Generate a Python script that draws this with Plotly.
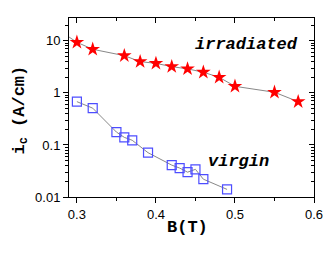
import plotly.graph_objects as go

B_irr = [0.28, 0.30, 0.32, 0.36, 0.38, 0.40, 0.42, 0.44, 0.46, 0.48, 0.50, 0.55, 0.58]
ic_irr = [15.0, 9.4, 6.9, 5.2, 4.0, 3.7, 3.2, 2.9, 2.5, 2.0, 1.34, 1.03, 0.68]

B_vir = [0.30, 0.32, 0.35, 0.36, 0.37, 0.39, 0.42, 0.43, 0.44, 0.45, 0.46, 0.49]
ic_vir = [0.68, 0.51, 0.177, 0.14, 0.123, 0.071, 0.041, 0.036, 0.030, 0.034, 0.022, 0.014]

x_ticks = [0.3, 0.4, 0.5, 0.6]
x_labels = ["0.3", "0.4", "0.5", "0.6"]
y_ticks = [0.01, 0.1, 1, 10]
y_labels = ["0.01", "0.1", "1", "10"]
y_minor = [m * d for d in (0.01, 0.1, 1, 10) for m in range(2, 10) if m * d <= 27]
x_minor = [0.35, 0.45, 0.55]

mono = "Liberation Mono, Courier New, monospace"
font_tick = dict(family="Liberation Sans, Arial", size=13, color="black")

fig = go.Figure()
fig.add_trace(go.Scatter(x=B_irr, y=ic_irr, mode="lines+markers", cliponaxis=True,
                         line=dict(color="#888888", width=1),
                         marker=dict(symbol="star", size=11, color="red", line=dict(width=0))))
fig.add_trace(go.Scatter(x=B_vir, y=ic_vir, mode="lines+markers",
                         line=dict(color="#888888", width=1),
                         marker=dict(symbol="square-open", size=9, color="#4d4dff", line=dict(width=1.2))))
fig.add_trace(go.Scatter(x=[None], y=[None], xaxis="x2", yaxis="y2", showlegend=False))

fig.update_layout(
    width=327, height=273, showlegend=False,
    margin=dict(l=69, r=13, t=18, b=76, autoexpand=False),
    plot_bgcolor="white", paper_bgcolor="white",
    xaxis=dict(range=[0.29, 0.6], tickvals=x_ticks, ticktext=x_labels, automargin=False,
               ticks="outside", ticklen=5, tickcolor="black", showline=True, linecolor="black",
               linewidth=1, showgrid=False, zeroline=False, tickfont=font_tick,
               minor=dict(tickmode="array", tickvals=x_minor, ticks="outside", ticklen=3,
                          tickcolor="black", showgrid=False)),
    yaxis=dict(type="log", range=[-2, 1.44], tickvals=y_ticks, ticktext=y_labels, automargin=False,
               ticks="outside", ticklen=5, tickcolor="black", showline=True, linecolor="black",
               linewidth=1, showgrid=False, zeroline=False, tickfont=font_tick,
               minor=dict(tickmode="array", tickvals=y_minor, ticks="outside", ticklen=3,
                          tickcolor="black", showgrid=False)),
    xaxis2=dict(range=[0.29, 0.6], overlaying="x", side="top", tickvals=x_ticks, showticklabels=False,
                automargin=False, ticks="inside", ticklen=5, tickcolor="black", showline=True,
                linecolor="black", showgrid=False, zeroline=False,
                minor=dict(tickmode="array", tickvals=x_minor, ticks="inside", ticklen=3,
                           tickcolor="black", showgrid=False)),
    yaxis2=dict(type="log", range=[-2, 1.44], overlaying="y", side="right", tickvals=y_ticks,
                showticklabels=False, automargin=False, ticks="inside", ticklen=5, tickcolor="black",
                showline=True, linecolor="black", showgrid=False, zeroline=False,
                minor=dict(tickmode="array", tickvals=y_minor, ticks="inside", ticklen=3,
                           tickcolor="black", showgrid=False)),
    annotations=[
        dict(x=0.515, y=0.94, xref="x", yref="y", text="<b><i>irradiated</i></b>", showarrow=False,
             font=dict(family=mono, size=17, color="black")),
        dict(x=0.505, y=-1.32, xref="x", yref="y", text="<b><i>virgin</i></b>", showarrow=False,
             font=dict(family=mono, size=17, color="black")),
        dict(x=0.5, y=-0.17, xref="paper", yref="paper", text="<b>B(T)</b>", showarrow=False,
             yanchor="middle", xshift=-4,
             font=dict(family=mono, size=17, color="black")),
        dict(x=-0.2, y=0.5, xref="paper", yref="paper", text="<b>i<sub>c</sub> (A/cm)</b>",
             showarrow=False, textangle=-90, xanchor="center", yanchor="middle", yshift=-3,
             font=dict(family=mono, size=17, color="black")),
    ],
)
fig.write_html("out.html", config={"staticPlot": True, "displayModeBar": False},
               post_script="document.body.style.margin='0';document.body.style.padding='0';")
